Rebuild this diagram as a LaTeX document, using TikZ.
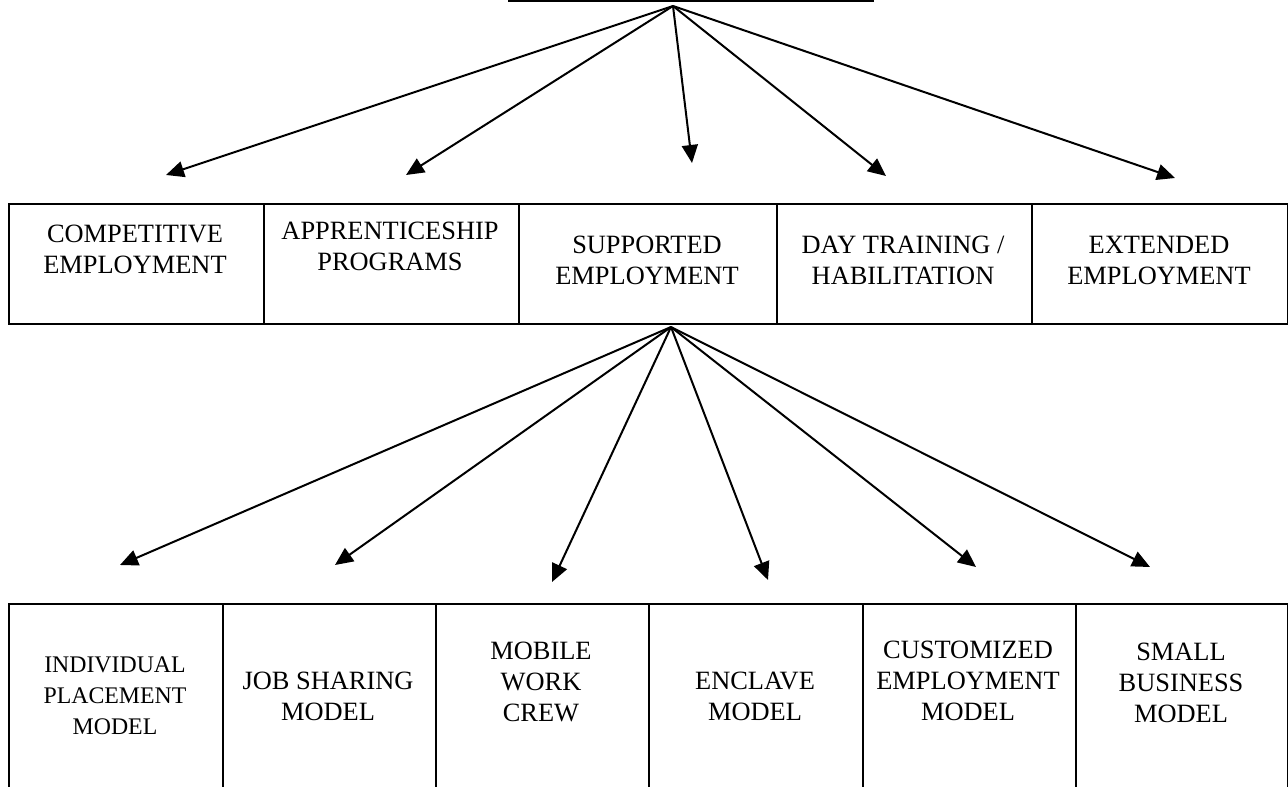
\documentclass[tikz,border=0pt]{standalone}
\usepackage{fontspec}
\setmainfont{Liberation Serif}
\usetikzlibrary{arrows.meta}

\begin{document}
\begin{tikzpicture}[x=0.5pt,y=-0.5pt,
    cell/.style={draw,line width=1pt,anchor=north west,inner sep=0pt},
    lbl/.style={align=center,inner sep=0pt,font=\fontsize{13.2}{15.5}\selectfont},
    fan/.style={-{Triangle[length=9pt,width=8pt]},line width=1pt}]
    \useasboundingbox (0,0) rectangle (1288,786);
    \clip (0,0) rectangle (1288,786);
    % top box, mostly above the page
    \node[cell,anchor=south west,minimum width=182pt,minimum height=40pt] (top) at (508,2) {};
    % second row
    \node[cell,minimum width=127.5pt,minimum height=60pt] (comp) at (8,203) {};
    \node[cell,minimum width=127.5pt,minimum height=60pt] (appr) at (263,203) {};
    \node[cell,minimum width=129pt,minimum height=60pt] (supp) at (518,203) {};
    \node[cell,minimum width=127.5pt,minimum height=60pt] (day) at (776,203) {};
    \node[cell,minimum width=128pt,minimum height=60pt] (ext) at (1031,203) {};
    \node[lbl] (comp-t) at (135,249) {COMPETITIVE\\EMPLOYMENT};
    \node[lbl] (appr-t) at (390,246) {APPRENTICESHIP\\PROGRAMS};
    \node[lbl] (supp-t) at (647,260) {SUPPORTED\\EMPLOYMENT};
    \node[lbl] (day-t) at (903,260) {DAY TRAINING /\\HABILITATION};
    \node[lbl] (ext-t) at (1159,260) {EXTENDED\\EMPLOYMENT};
    % third row
    \node[cell,minimum width=107pt,minimum height=100pt] (ind) at (8,603) {};
    \node[cell,minimum width=106.5pt,minimum height=100pt] (job) at (222,603) {};
    \node[cell,minimum width=106.5pt,minimum height=100pt] (mob) at (435,603) {};
    \node[cell,minimum width=107pt,minimum height=100pt] (encl) at (648,603) {};
    \node[cell,minimum width=106.5pt,minimum height=100pt] (cust) at (862,603) {};
    \node[cell,minimum width=106pt,minimum height=100pt] (small) at (1075,603) {};
    \node[lbl,font=\fontsize{11.9}{15.5}\selectfont] (ind-t) at (115,696) {INDIVIDUAL\\PLACEMENT\\MODEL};
    \node[lbl] (job-t) at (328,696) {JOB SHARING\\MODEL};
    \node[lbl] (mob-t) at (541,682) {MOBILE\\WORK\\CREW};
    \node[lbl] (encl-t) at (755,696) {ENCLAVE\\MODEL};
    \node[lbl] (cust-t) at (968,681) {CUSTOMIZED\\EMPLOYMENT\\MODEL};
    \node[lbl] (small-t) at (1181,683) {SMALL\\BUSINESS\\MODEL};
    % arrows
    \coordinate (hub) at ([xshift=-9pt,yshift=-2pt]top.south);
    \coordinate (hub2) at ([xshift=11.5pt,yshift=-1pt]supp.south);
    \coordinate (a1) at (166,175);
    \coordinate (a2) at (406,175);
    \coordinate (a3) at (692,163);
    \coordinate (a4) at (886,176);
    \coordinate (a5) at (1175,178);
    \coordinate (b1) at (120,565);
    \coordinate (b2) at (335,565);
    \coordinate (b3) at (552,582);
    \coordinate (b4) at (768,580);
    \coordinate (b5) at (976,567);
    \coordinate (b6) at (1150,567);
    \foreach \t in {a1,a2,a3,a4,a5}
        \draw[fan] (hub) -- (\t);
    \foreach \t in {b1,b2,b3,b4,b5,b6}
        \draw[fan] (hub2) -- (\t);
\end{tikzpicture}
\end{document}
